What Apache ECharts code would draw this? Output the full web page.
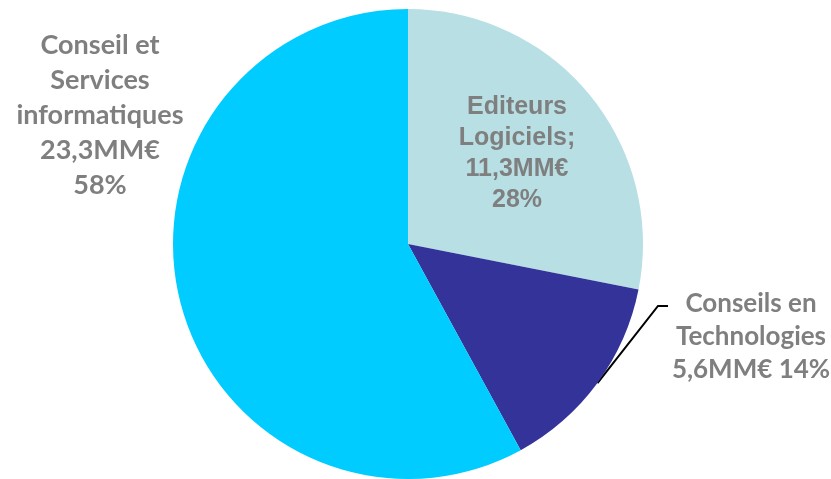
<!DOCTYPE html>
<html>
<head>
<meta charset="utf-8">
<script src="https://cdn.jsdelivr.net/npm/echarts@6/dist/echarts.min.js"></script>
<style>html,body{margin:0;padding:0;background:#fff}#c{width:831px;height:479px}</style>
</head>
<body>
<div id="c"></div>
<script>
const categories = ['Editeurs Logiciels', 'Conseils en Technologies', 'Conseil et Services informatiques'];
const values = [11.3, 5.6, 23.3];
const nameLines = [['Editeurs', 'Logiciels;'], ['Conseils en', 'Technologies'], ['Conseil et', 'Services', 'informatiques']];
const colors = ['#B7DFE4', '#333399', '#00CCFF'];

function fmtValue(v) { return String(v).replace('.', ',') + 'MM€'; }

const chart = echarts.init(document.getElementById('c'));
chart.setOption({
  animation: false,
  series: [{
    type: 'pie',
    center: [408, 244],
    radius: 235,
    startAngle: 90,
    clockwise: true,
    avoidLabelOverlap: false,
    emphasis: { disabled: true },
    data: categories.map((c, i) => ({
      name: c,
      value: values[i],
      itemStyle: { color: colors[i] },
      labelLine: { show: i === 1, lineStyle: { color: '#000', width: 2 } },
      label: i === 0 ? { fontFamily: 'Liberation Sans', fontSize: 25, lineHeight: 31 } :
             i === 1 ? { fontFamily: 'Lato', fontSize: 26, lineHeight: 33 } :
                       { fontFamily: 'Lato', fontSize: 27, lineHeight: 35 }
    })),
    label: {
      show: true,
      position: 'outside',
      color: '#7F7F7F',
      fontWeight: 'bold',
      align: 'center',
      formatter: function (p) {
        const i = p.dataIndex;
        const pct = Math.round(p.percent) + '%';
        const lines = nameLines[i].slice();
        if (i === 1) { lines.push(fmtValue(p.value) + ' ' + pct); }
        else { lines.push(fmtValue(p.value)); lines.push(pct); }
        return lines.join('\n');
      }
    },
    labelLayout: function (params) {
      const i = params.dataIndex;
      if (i === 0) return { x: 517, y: 154, align: 'center', verticalAlign: 'middle' };
      if (i === 2) return { x: 100, y: 115, align: 'center', verticalAlign: 'middle' };
      const pts = params.labelLinePoints;
      return {
        x: 751, y: 337, align: 'center', verticalAlign: 'middle',
        labelLinePoints: [pts[0], [658, 306], [668, 306]]
      };
    }
  }]
});
</script>
</body>
</html>
